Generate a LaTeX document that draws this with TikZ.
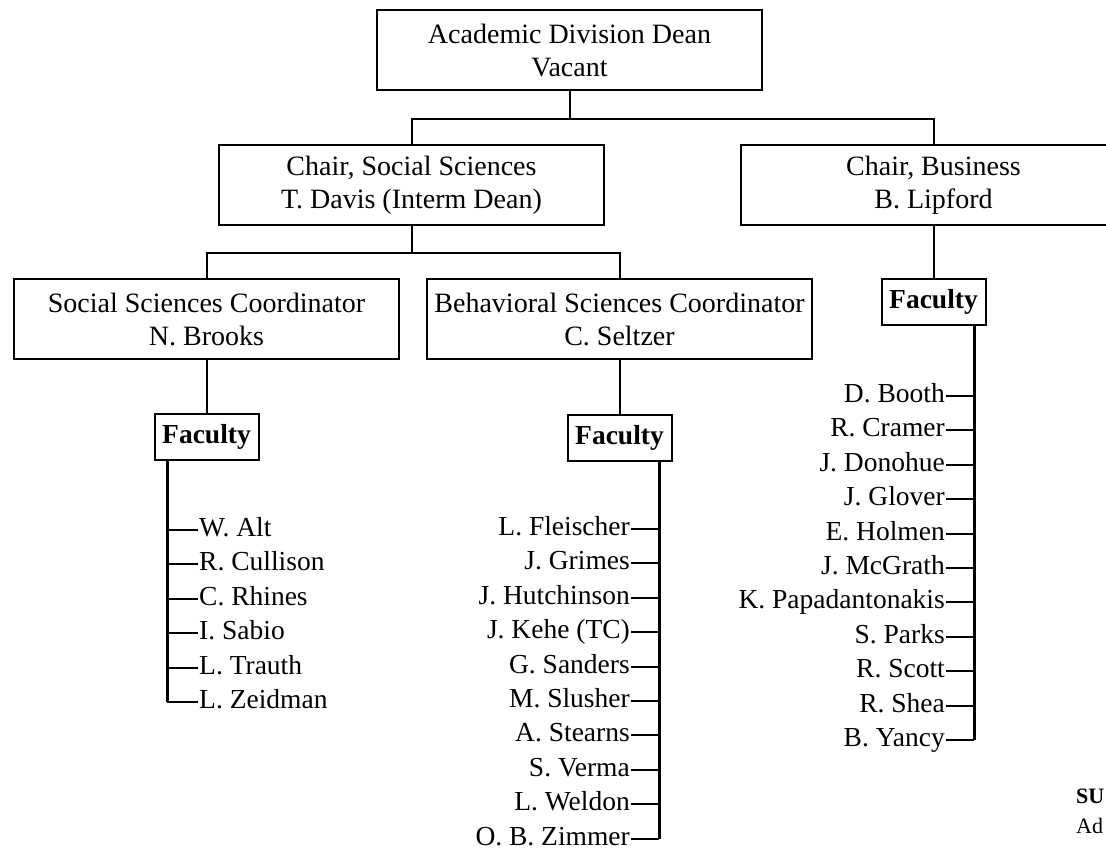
\documentclass[tikz,border=0pt]{standalone}
\usepackage{fontspec}
\setmainfont{Liberation Serif}
\begin{document}
\begin{tikzpicture}[x=1pt,y=-1pt,
  box/.style={draw, line width=2pt, minimum width=385pt, minimum height=80pt, align=center, inner sep=0pt, font=\fontsize{28}{33}\selectfont},
  fac/.style={draw, line width=2pt, minimum width=104pt, minimum height=46pt, inner sep=0pt, font=\fontsize{27.5}{33}\selectfont\bfseries},
  person/.style={inner sep=1pt, text height=19pt, text depth=6pt, font=\fontsize{27.5}{33}\selectfont},
  conn/.style={line width=2pt},
  vline/.style={line width=3pt},
  tick/.style={line width=2pt}]
\useasboundingbox (0,0) rectangle (1106,849);
\clip (0,0) rectangle (1106,849);

% boxes
\node[box] (dean)  at (569.5,50)  {Academic Division Dean\\Vacant};
\node[box] (chss)  at (411.5,185) {Chair, Social Sciences\\T. Davis (Interm Dean)};
\node[box] (chbus) at (933.5,185) {Chair, Business\\B. Lipford};
\node[box] (ssc)   at (206.5,319) {Social Sciences Coordinator\\N. Brooks};
\node[box] (bsc)   at (619.5,319) {Behavioral Sciences Coordinator\\C. Seltzer};

\node[fac] (facL) at (206.5,437) {Faculty};
\node[fac] (facM) at (619.5,438) {Faculty};
\node[fac] (facR) at (933.5,301.5) {Faculty};

% connectors
\draw[conn] (dean.south) -- ++(0,28) coordinate (j1);
\draw[conn] (chss.north) |- (j1) -| (chbus.north);
\draw[conn] (chss.south) -- ++(0,27) coordinate (j2);
\draw[conn] (ssc.north) |- (j2) -| (bsc.north);
\draw[conn] (ssc.south) -- (facL.north);
\draw[conn] (bsc.south) -- (facM.north);
\draw[conn] (chbus.south) -- (facR.north);

% left list
\foreach \n [count=\i from 0] in {W. Alt,R. Cullison,C. Rhines,I. Sabio,L. Trauth,L. Zeidman}
  \node[person, anchor=west] (L\i) at (198,530+34.4*\i) {\n};
\coordinate (Lx) at ([xshift=-39.5pt]facL.south);
\draw[vline] (Lx) -- (Lx |- L5.west);
\foreach \i in {0,...,5} \draw[tick] (Lx |- L\i.west) -- (L\i.west);

% middle list
\foreach \n [count=\i from 0] in {L. Fleischer,J. Grimes,J. Hutchinson,J. Kehe (TC),G. Sanders,M. Slusher,A. Stearns,S. Verma,L. Weldon,O. B. Zimmer}
  \node[person, anchor=east] (M\i) at (631,529+34.4*\i) {\n};
\coordinate (Mx) at ([xshift=39.5pt]facM.south);
\draw[vline] (Mx) -- (Mx |- M9.east);
\foreach \i in {0,...,9} \draw[tick] (Mx |- M\i.east) -- (M\i.east);

% right list
\foreach \n [count=\i from 0] in {D. Booth,R. Cramer,J. Donohue,J. Glover,E. Holmen,J. McGrath,K. Papadantonakis,S. Parks,R. Scott,R. Shea,B. Yancy}
  \node[person, anchor=east] (R\i) at (946,396+34.4*\i) {\n};
\coordinate (Rx) at ([xshift=40.5pt]facR.south);
\draw[vline] (Rx) -- (Rx |- R10.east);
\foreach \i in {0,...,10} \draw[tick] (Rx |- R\i.east) -- (R\i.east);

% note at bottom right (cut off in the reference)
\node[anchor=base west, inner sep=0pt, font=\fontsize{22}{30}\selectfont\bfseries] (su) at (1076,803) {SU};
\node[anchor=base west, inner sep=0pt, font=\fontsize{22}{30}\selectfont] (ad) at (1076,833) {Ad};
\end{tikzpicture}
\end{document}
